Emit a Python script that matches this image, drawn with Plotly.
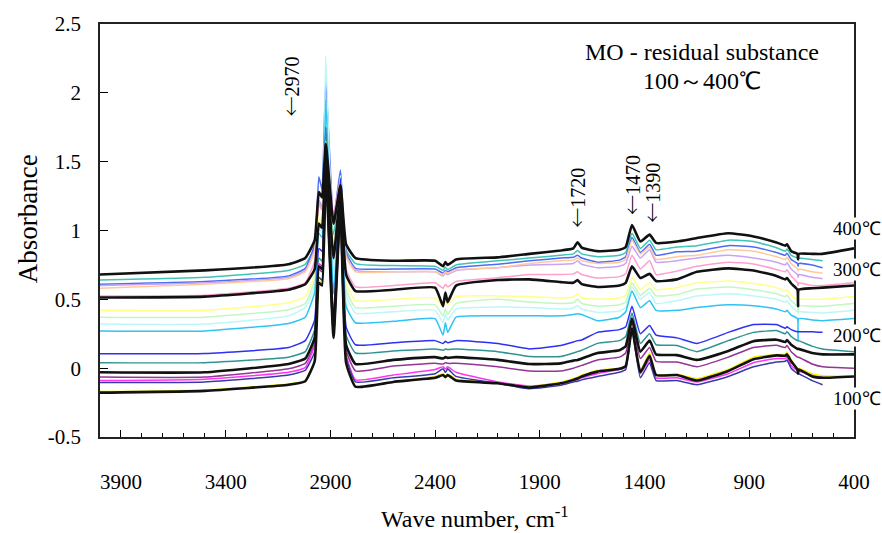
import plotly.graph_objects as go

# Wavenumber grid (cm-1) shared by every spectrum
wavenumber = [4000, 3500, 3100, 3020, 2975, 2955, 2940, 2922, 2885, 2852, 2825, 2780,
              2600, 2400, 2362, 2351, 2340, 2300, 2100, 1950, 1800, 1740, 1720, 1700,
              1625, 1520, 1490, 1460, 1420, 1376, 1345, 1245, 1150, 1000, 880, 770,
              728, 720, 700, 670, 667, 664, 600, 550, 400]

# Absorbance of each residue spectrum (100-400 degC series, top to bottom)
abs_400 = [0.68, 0.71, 0.755, 0.80, 0.93, 1.28, 1.24, 1.63, 1.05, 1.33, 0.90, 0.80, 0.78, 0.78, 0.74, 0.77, 0.75, 0.79, 0.805, 0.83, 0.855, 0.87, 0.915, 0.875, 0.85, 0.86, 0.88, 1.04, 0.92, 0.97, 0.91, 0.92, 0.945, 0.98, 0.957, 0.913, 0.89, 0.90, 0.85, 0.83, 0.79, 0.83, 0.83, 0.83, 0.87]
abs_s02 = [0.64, 0.66, 0.71, 0.755, 0.88, 1.20, 1.17, 1.70, 0.97, 1.30, 0.86, 0.76, 0.745, 0.74, 0.71, 0.735, 0.715, 0.75, 0.78, 0.80, 0.82, 0.83, 0.855, 0.83, 0.81, 0.82, 0.84, 0.98, 0.87, 0.93, 0.86, 0.88, 0.89, 0.93, 0.92, 0.875, 0.85, 0.865, 0.82, 0.80, 0.80, 0.80, 0.79, 0.78, None]
abs_s03 = [0.61, 0.63, 0.67, 0.725, 0.90, 1.39, 1.30, 2.09, 1.08, 1.44, 0.84, 0.725, 0.72, 0.72, 0.69, 0.71, 0.70, 0.73, 0.755, 0.78, 0.80, 0.805, 0.82, 0.80, 0.77, 0.785, 0.81, 0.95, 0.84, 0.90, 0.82, 0.845, 0.85, 0.89, 0.88, 0.84, 0.82, 0.835, 0.79, 0.76, 0.74, 0.76, 0.75, 0.73, None]
abs_s04 = [0.60, 0.62, 0.66, 0.71, 0.86, 1.22, 1.18, 1.83, 1.11, 1.38, 0.82, 0.71, 0.70, 0.70, 0.67, 0.69, 0.68, 0.71, 0.73, 0.75, 0.755, 0.76, 0.78, 0.755, 0.73, 0.74, 0.76, 0.885, 0.80, 0.86, 0.77, 0.78, 0.80, 0.82, 0.80, 0.77, 0.75, 0.765, 0.72, 0.68, 0.66, 0.68, 0.66, 0.65, None]
abs_s05 = [0.58, 0.61, 0.65, 0.70, 0.85, 1.18, 1.15, 1.78, 1.08, 1.36, 0.81, 0.70, 0.70, 0.70, 0.68, 0.70, 0.69, 0.715, 0.73, 0.76, 0.78, 0.785, 0.80, 0.78, 0.76, 0.77, 0.79, 0.93, 0.83, 0.88, 0.79, 0.81, 0.82, 0.86, 0.85, 0.81, 0.79, 0.805, 0.76, 0.72, 0.71, 0.72, 0.70, 0.69, None]
abs_s06 = [0.525, 0.53, 0.58, 0.62, 0.78, 1.20, 1.15, 1.80, 1.10, 1.36, 0.72, 0.59, 0.60, 0.62, 0.58, 0.61, 0.59, 0.63, 0.657, 0.68, 0.68, 0.685, 0.70, 0.68, 0.655, 0.665, 0.685, 0.82, 0.72, 0.78, 0.68, 0.705, 0.74, 0.77, 0.757, 0.717, 0.70, 0.715, 0.67, 0.62, 0.60, 0.62, 0.60, 0.60, 0.62]
abs_300 = [0.513, 0.52, 0.57, 0.61, 0.72, 1.05, 1.02, 1.55, 0.80, 1.28, 0.68, 0.56, 0.57, 0.585, 0.45, 0.55, 0.48, 0.60, 0.64, 0.645, 0.625, 0.62, 0.64, 0.61, 0.59, 0.60, 0.62, 0.74, 0.655, 0.685, 0.633, 0.645, 0.70, 0.725, 0.71, 0.67, 0.645, 0.655, 0.615, 0.57, 0.45, 0.57, 0.58, 0.585, 0.60]
abs_s08 = [0.42, 0.42, 0.475, 0.52, 0.68, 1.10, 1.05, 1.85, 0.85, 1.32, 0.62, 0.49, 0.50, 0.51, 0.45, 0.49, 0.46, 0.52, 0.525, 0.52, 0.51, 0.515, 0.54, 0.51, 0.50, 0.51, 0.53, 0.657, 0.57, 0.62, 0.57, 0.585, 0.62, 0.633, 0.615, 0.585, 0.56, 0.57, 0.53, 0.50, 0.50, 0.50, 0.50, 0.50, 0.52]
abs_s09 = [0.37, 0.37, 0.425, 0.47, 0.64, 1.05, 1.00, 1.90, 0.78, 1.34, 0.57, 0.44, 0.45, 0.46, 0.38, 0.43, 0.39, 0.47, 0.50, 0.48, 0.47, 0.475, 0.50, 0.47, 0.45, 0.46, 0.48, 0.62, 0.53, 0.58, 0.525, 0.535, 0.575, 0.59, 0.57, 0.54, 0.52, 0.53, 0.49, 0.45, 0.40, 0.45, 0.45, 0.45, 0.47]
abs_s10 = [0.32, 0.32, 0.38, 0.44, 0.60, 1.02, 0.98, 2.27, 0.70, 1.40, 0.53, 0.40, 0.41, 0.42, 0.33, 0.39, 0.35, 0.43, 0.445, 0.44, 0.43, 0.435, 0.455, 0.43, 0.405, 0.415, 0.44, 0.59, 0.50, 0.55, 0.47, 0.49, 0.525, 0.54, 0.525, 0.50, 0.48, 0.49, 0.45, 0.41, 0.41, 0.41, 0.405, 0.40, 0.42]
abs_s11 = [0.27, 0.27, 0.325, 0.37, 0.55, 0.98, 0.95, 1.95, 0.54, 1.30, 0.45, 0.33, 0.34, 0.36, 0.24, 0.33, 0.26, 0.37, 0.38, 0.38, 0.38, 0.39, 0.395, 0.39, 0.345, 0.37, 0.41, 0.56, 0.44, 0.49, 0.42, 0.42, 0.44, 0.46, 0.453, 0.43, 0.41, 0.42, 0.385, 0.36, 0.20, 0.36, 0.35, 0.345, 0.36]
abs_s12 = [0.105, 0.107, 0.15, 0.20, 0.35, 0.87, 0.85, 1.75, 0.345, 1.38, 0.30, 0.17, 0.185, 0.20, 0.18, 0.195, 0.185, 0.20, 0.18, 0.14, 0.165, 0.19, 0.20, 0.205, 0.26, 0.28, 0.30, 0.45, 0.25, 0.31, 0.24, 0.22, 0.18, 0.26, 0.317, 0.317, 0.29, 0.30, 0.28, 0.265, 0.265, 0.265, 0.265, 0.26, None]
abs_s13 = [0.04, 0.04, 0.08, 0.12, 0.28, 0.80, 0.78, 1.75, 0.32, 1.28, 0.24, 0.11, 0.125, 0.14, 0.13, 0.14, 0.135, 0.14, 0.12, 0.085, 0.085, 0.11, 0.12, 0.13, 0.18, 0.20, 0.23, 0.40, 0.18, 0.25, 0.17, 0.165, 0.12, 0.20, 0.26, 0.273, 0.25, 0.265, 0.23, 0.20, 0.20, 0.20, 0.16, 0.14, 0.12]
abs_200 = [-0.03, -0.03, 0.03, 0.07, 0.22, 0.74, 0.72, 1.50, 0.28, 1.22, 0.17, 0.03, 0.06, 0.08, 0.07, 0.08, 0.075, 0.08, 0.06, 0.03, 0.035, 0.055, 0.06, 0.07, 0.11, 0.13, 0.16, 0.36, 0.12, 0.20, 0.10, 0.095, 0.06, 0.125, 0.196, 0.207, 0.19, 0.205, 0.17, 0.14, 0.14, 0.14, 0.11, 0.10, 0.10]
abs_s15 = [-0.065, -0.065, -0.005, 0.035, 0.18, 0.72, 0.70, 1.55, 0.27, 1.22, 0.13, -0.02, 0.015, 0.035, 0.03, 0.04, 0.035, 0.035, 0.01, -0.02, -0.02, 0.0, 0.01, 0.02, 0.06, 0.08, 0.11, 0.33, 0.07, 0.15, 0.05, 0.045, 0.01, 0.08, 0.15, 0.166, 0.15, 0.165, 0.12, 0.08, 0.08, 0.08, 0.03, 0.01, 0.0]
abs_s16 = [-0.09, -0.08, -0.03, 0.005, 0.17, 0.76, 0.74, 1.60, 0.27, 1.24, 0.10, -0.085, -0.05, -0.01, 0.01, -0.005, 0.01, -0.03, -0.10, -0.13, -0.11, -0.09, -0.08, -0.07, -0.04, -0.01, 0.01, 0.30, -0.04, 0.06, -0.07, -0.07, -0.10, -0.04, 0.04, 0.07, 0.07, 0.08, 0.02, -0.02, -0.02, -0.02, -0.05, -0.06, None]
abs_s17 = [-0.105, -0.10, -0.05, -0.015, 0.12, 0.66, 0.64, 1.50, 0.25, 1.20, 0.08, -0.10, -0.07, -0.04, -0.005, -0.03, -0.005, -0.06, -0.11, -0.15, -0.125, -0.10, -0.095, -0.085, -0.06, -0.03, -0.01, 0.28, -0.07, 0.04, -0.09, -0.09, -0.12, -0.06, 0.01, 0.045, 0.05, 0.06, 0.0, -0.04, -0.04, -0.04, -0.09, -0.12, None]
abs_s18 = [-0.17, -0.158, -0.115, -0.09, 0.06, 0.64, 0.62, 1.65, 0.24, 1.22, 0.05, -0.13, -0.10, -0.06, -0.04, -0.055, -0.04, -0.08, -0.11, -0.135, -0.10, -0.075, -0.065, -0.05, -0.015, 0.0, 0.02, 0.30, -0.015, 0.11, -0.045, -0.045, -0.075, -0.01, 0.08, 0.10, 0.10, 0.115, 0.06, 0.0, 0.0, 0.0, -0.04, -0.055, -0.06]
abs_100 = [-0.178, -0.165, -0.12, -0.095, 0.05, 0.62, 0.60, 1.45, 0.22, 1.18, 0.04, -0.135, -0.10, -0.07, -0.05, -0.065, -0.05, -0.09, -0.11, -0.14, -0.11, -0.085, -0.075, -0.06, -0.025, -0.005, 0.015, 0.29, -0.03, 0.09, -0.05, -0.05, -0.09, -0.02, 0.065, 0.093, 0.09, 0.10, 0.05, -0.01, -0.04, -0.01, -0.06, -0.07, -0.06]

# Axis ticks
x_ticks = [3900, 3400, 2900, 2400, 1900, 1400, 900, 400]
y_ticks = [-0.5, 0, 0.5, 1, 1.5, 2, 2.5]
y_tick_text = ["-0.5", "0", "0.5", "1", "1.5", "2", "2.5"]

# Peak markers and temperature labels
peak_numbers = ["2970", "1720", "1470", "1390"]
temp_labels = ["400\u2103", "300\u2103", "200\u2103", "100\u2103"]

colored = [
    ("s02", abs_s02, "#3fc4b5"),
    ("s03", abs_s03, "#4b6cf5"),
    ("s04", abs_s04, "#c9a3f7"),
    ("s05", abs_s05, "#ffc99c"),
    ("s06", abs_s06, "#ff9fcd"),
    ("s08", abs_s08, "#ffff8a"),
    ("s09", abs_s09, "#c2f7c2"),
    ("s10", abs_s10, "#bdf7f7"),
    ("s11", abs_s11, "#2ec3f3"),
    ("s12", abs_s12, "#2f2ff5"),
    ("s13", abs_s13, "#2f9393"),
    ("s15", abs_s15, "#943496"),
    ("s16", abs_s16, "#ff33f5"),
    ("s17", abs_s17, "#3a3aa6"),
    ("s18", abs_s18, "#f2f200"),
]
blacks = [
    ("400\u2103", abs_400),
    ("300\u2103", abs_300),
    ("200\u2103", abs_200),
    ("100\u2103", abs_100),
]

fig = go.Figure()
for name, ys, color in colored:
    fig.add_trace(go.Scatter(x=wavenumber, y=ys, mode="lines", name=name,
                             line=dict(color=color, width=1.5, shape="spline", smoothing=0.4),
                             connectgaps=False))
for name, ys in blacks:
    fig.add_trace(go.Scatter(x=wavenumber, y=ys, mode="lines", name=name,
                             line=dict(color="#111111", width=2.6, shape="spline", smoothing=0.4),
                             connectgaps=False))

SERIF = "Liberation Serif"
ARROW = '<span style="font-family:Noto Sans CJK JP;font-weight:300">\u2190</span>'


def label(text, x, y, size, **extra):
    return dict(text=text, x=x, y=y, xref="paper", yref="paper", xanchor="center",
                yanchor="middle", showarrow=False,
                font=dict(size=size, family=SERIF, color="black"), **extra)


annotations = [
    label("Absorbance", -0.095, 0.528, 27, textangle=-90),
    label("Wave number, cm<sup>-1</sup>", 0.497, -0.194, 24),
    label("MO - residual substance", 0.798, 0.933, 24),
    label("100\uff5e400\u2103", 0.798, 0.863, 24),
]
for num, px, py in zip(peak_numbers, [0.253, 0.632, 0.705, 0.731], [0.848, 0.578, 0.609, 0.592]):
    annotations.append(label(ARROW + num, px, py, 20, textangle=-90))
for text, py in zip(temp_labels, [0.506, 0.405, 0.245, 0.094]):
    annotations.append(label(text, 1.004, py, 19, bgcolor="white", borderpad=0))

fig.update_layout(
    width=882, height=533,
    margin=dict(l=100, r=23, t=20, b=96),
    paper_bgcolor="white", plot_bgcolor="white",
    showlegend=False,
    font=dict(family=SERIF, color="black"),
    annotations=annotations,
)
fig.update_xaxes(
    range=[4000, 400], tickvals=x_ticks, ticks="inside", ticklen=7, tickwidth=1,
    tickcolor="black", showline=True, mirror=True, linecolor="#222222", linewidth=1.5,
    showgrid=False, zeroline=False, tickfont=dict(size=21, family=SERIF, color="black"),
    ticklabelstandoff=25,
    minor=dict(tickvals=list(range(400, 4001, 100)), ticks="inside", ticklen=4,
               tickcolor="black", showgrid=False),
)
fig.update_yaxes(
    range=[-0.5, 2.5], tickvals=y_ticks, ticktext=y_tick_text, ticks="inside", ticklen=8,
    tickwidth=1, tickcolor="black", showline=True, mirror=True, linecolor="#222222",
    linewidth=1.5, showgrid=False, zeroline=False,
    tickfont=dict(size=21, family=SERIF, color="black"), ticklabelstandoff=13,
)

fig.write_html("out.html")
